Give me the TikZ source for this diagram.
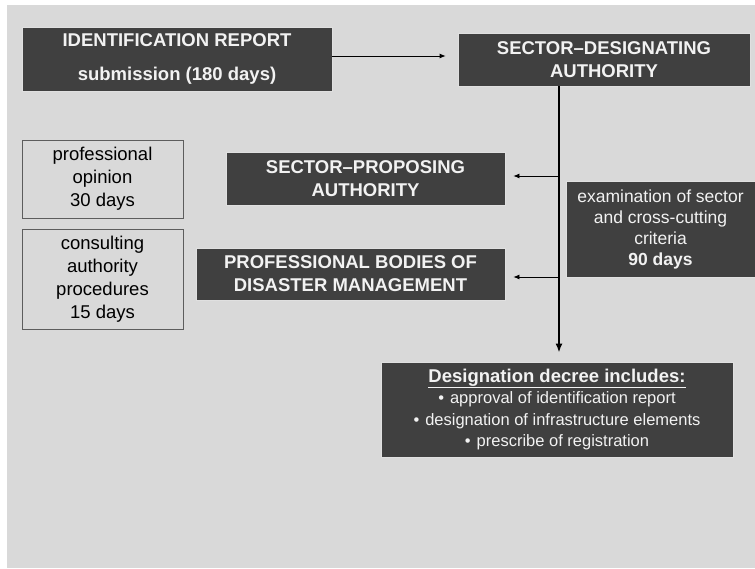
\documentclass[tikz,border=0pt]{standalone}
\usepackage{fontspec}
\setmainfont{Liberation Sans}
\usetikzlibrary{arrows.meta,positioning}
\definecolor{bggray}{HTML}{D9D9D9}
\definecolor{boxgray}{HTML}{404040}
\tikzset{
  darkbox/.style={draw=white!88!black, fill=boxgray, text=white!95!black, align=center,
    font=\bfseries\fontsize{18.5}{23}\selectfont, inner sep=0pt, line width=0.8pt},
  lightbox/.style={draw=boxgray!85, fill=bggray, align=center,
    font=\fontsize{18.5}{23}\selectfont, inner sep=0pt, line width=0.8pt},
  thinarrow/.style={-{Latex[length=6pt,width=5pt]}, line width=0.8pt},
  spine/.style={-{Latex[length=9pt,width=7pt]}, line width=2pt},
}
\begin{document}
\begin{tikzpicture}[x=1pt,y=-1pt]
	\useasboundingbox (0,0) rectangle (755,569);
	\fill[white] (0,0) rectangle (755,569);
	\fill[bggray] (7,5) rectangle (755,568);
	% boxes
	\node[darkbox, minimum width=310pt, minimum height=64pt] (idrep) at (177,59)
		{IDENTIFICATION REPORT\\[11pt] submission (180 days)};
	\node[darkbox, minimum width=292pt, minimum height=53pt] (sda) at (604,59.5)
		{SECTOR--DESIGNATING\\AUTHORITY};
	\node[darkbox, minimum width=279pt, minimum height=53pt] (spa) at (365.5,178.5)
		{SECTOR--PROPOSING\\AUTHORITY};
	\node[darkbox, minimum width=309pt, minimum height=52pt] (pbd) at (350.5,274)
		{PROFESSIONAL BODIES OF\\DISASTER MANAGEMENT};
	\node[darkbox, font=\fontsize{17.5}{21}\selectfont, minimum width=189pt, minimum height=96pt] (exam) at (660.5,229)
		{examination of sector\\and cross-cutting\\criteria\\\textbf{90 days}};
	\node[darkbox, font=\fontsize{16.5}{21.5}\selectfont, minimum width=352pt, minimum height=95pt] (decree) at (557,409.5)
		{{\bfseries\fontsize{18.5}{21.5}\selectfont\underline{Designation decree includes:}}\\
		 \textbullet\hspace{6pt}approval of identification report\\
		 \textbullet\hspace{6pt}designation of infrastructure elements\\
		 \textbullet\hspace{6pt}prescribe of registration};
	\node[lightbox, minimum width=161pt, minimum height=78pt] (opin) at (102.5,179)
		{professional\\opinion\\30 days};
	\node[lightbox, minimum width=161pt, minimum height=100pt] (cons) at (102.5,279)
		{consulting\\authority\\procedures\\15 days};
	% connectors
	\coordinate (vtop) at ([xshift=-45pt]sda.south);
	\draw[thinarrow, shorten >=12pt] ([yshift=3pt]idrep.east) -- ([yshift=3pt]idrep.east -| sda.west);
	\draw[spine, shorten >=9pt] (vtop) -- (vtop |- decree.north);
	\draw[thinarrow, shorten >=8pt] ([yshift=2.5pt]vtop |- spa.east) -- ([yshift=2.5pt]spa.east);
	\draw[thinarrow, shorten >=8pt] ([yshift=-3pt]vtop |- pbd.east) -- ([yshift=-3pt]pbd.east);
\end{tikzpicture}
\end{document}
